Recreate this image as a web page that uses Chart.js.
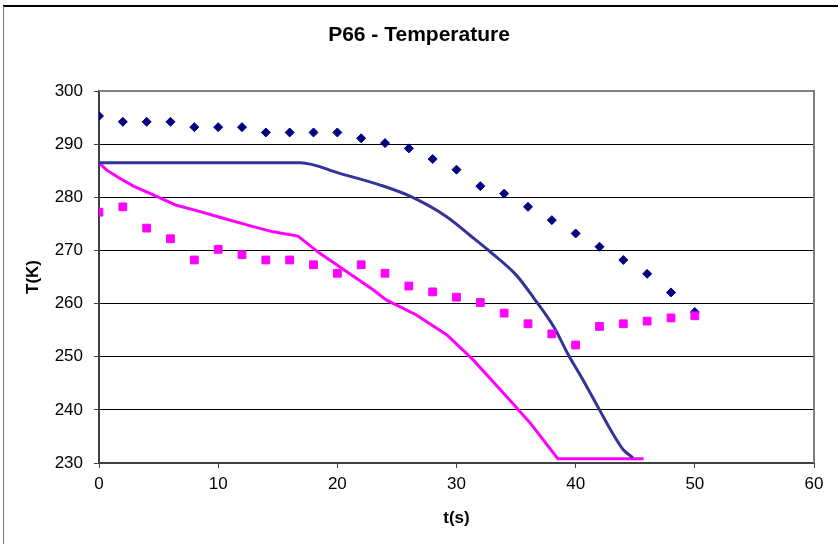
<!DOCTYPE html>
<html>
<head>
<meta charset="utf-8">
<title>P66 - Temperature</title>
<script src="https://cdn.jsdelivr.net/npm/chart.js@4/dist/chart.umd.min.js"></script>
<style>
  html, body { margin: 0; padding: 0; background: #fff; }
  #wrap { position: relative; width: 838px; height: 544px; overflow: hidden; }
</style>
</head>
<body>
<div id="wrap"><canvas id="chart" width="838" height="544"></canvas></div>
<script>
// measured points, every 2 s
const sampleTimes = [0, 2, 4, 6, 8, 10, 12, 14, 16, 18, 20, 22, 24, 26, 28, 30, 32, 34, 36, 38, 40, 42, 44, 46, 48, 50];
const diamondTemps = [295.3, 294.2, 294.2, 294.2, 293.2, 293.2, 293.2, 292.2, 292.2, 292.2, 292.2, 291.1, 290.2,
  289.2, 287.2, 285.2, 282.1, 280.7, 278.2, 275.7, 273.2, 270.7, 268.2, 265.6, 262.1, 258.4];
const squareTemps = [277.2, 278.2, 274.2, 272.2, 268.2, 270.2, 269.2, 268.2, 268.2, 267.3, 265.7, 267.3, 265.7,
  263.3, 262.2, 261.2, 260.2, 258.2, 256.2, 254.3, 252.2, 255.7, 256.2, 256.7, 257.3, 257.7];

// computed curves
const blueTimes = [0, 16.9, 20.2, 23.6, 26.1, 29.2, 31.1, 32.8, 35.0, 36.5, 38.2, 39.3, 40.7, 42.0, 43.1, 44.0, 44.8];
const blueTemps = [286.5, 286.5, 284.5, 282.3, 280.2, 276.3, 272.9, 269.8, 265.4, 261.0, 255.5, 250.7, 245.3, 240.0, 235.6, 232.5, 231.0];
const pinkTimes = [0, 0.65, 1.8, 2.9, 4.6, 6.5, 8.5, 10.2, 12.4, 14.6, 16.7, 18.5, 20.8, 23.0, 24.1, 26.6, 29.2, 31.4, 34.2, 36.2, 38.5, 45.7];
const pinkTemps = [286.5, 285.1, 283.5, 282.1, 280.4, 278.5, 277.3, 276.2, 274.8, 273.5, 272.7, 269.5, 266.0, 262.6,
  260.7, 257.9, 254.1, 249.4, 242.5, 237.5, 230.8, 230.8];

const xTicks = [0, 10, 20, 30, 40, 50, 60];
const yTicks = [230, 240, 250, 260, 270, 280, 290, 300];

const FONT = "'Liberation Sans', Arial, sans-serif";
const pts = (xs, ys) => xs.map((x, i) => ({ x, y: ys[i] }));

// frame lines: outer chart border + gray top/right edge of the plot area
const frames = {
  id: 'frames',
  beforeDraw(chart) {
    const ctx = chart.ctx;
    ctx.save();
    ctx.strokeStyle = '#000';
    ctx.lineWidth = 2;
    ctx.beginPath(); ctx.moveTo(3, 6); ctx.lineTo(838, 6); ctx.stroke();
    ctx.strokeStyle = '#777';
    ctx.lineWidth = 1;
    ctx.beginPath(); ctx.moveTo(3.5, 6); ctx.lineTo(3.5, 544); ctx.stroke();
    ctx.restore();
  },
  beforeDatasetsDraw(chart) {
    const { ctx, chartArea: a } = chart;
    ctx.save();
    ctx.strokeStyle = '#808080';
    ctx.lineWidth = 2;
    ctx.beginPath();
    ctx.moveTo(a.left, a.top);
    ctx.lineTo(a.right, a.top);
    ctx.lineTo(a.right, a.bottom);
    ctx.stroke();
    ctx.restore();
  }
};

new Chart(document.getElementById('chart'), {
  type: 'scatter',
  data: {
    datasets: [
      {
        data: pts(sampleTimes, squareTemps),
        pointStyle: 'rect', pointRadius: 5.5, borderWidth: 1,
        backgroundColor: '#FF00FF', borderColor: '#FF00FF', showLine: false, order: 0
      },
      {
        data: pts(sampleTimes, diamondTemps),
        pointStyle: 'rectRot', pointRadius: 4.5, borderWidth: 1,
        backgroundColor: '#000080', borderColor: '#000080', showLine: false, order: 1
      },
      {
        data: pts(blueTimes, blueTemps),
        showLine: true, pointRadius: 0, borderColor: '#333399', borderWidth: 3,
        cubicInterpolationMode: 'monotone', fill: false, order: 2
      },
      {
        data: pts(pinkTimes, pinkTemps),
        showLine: true, pointRadius: 0, borderColor: '#FF00FF', borderWidth: 3,
        tension: 0, fill: false, order: 3
      }
    ]
  },
  options: {
    responsive: false,
    animation: false,
    events: [],
    layout: { padding: 0 },
    plugins: {
      legend: { display: false },
      tooltip: { enabled: false },
      title: {
        display: true,
        text: 'P66 - Temperature',
        color: '#000',
        font: { family: FONT, size: 21, weight: 'bold', lineHeight: 1.2 },
        padding: { top: 23, bottom: 42.8 }
      }
    },
    scales: {
      x: {
        type: 'linear', min: 0, max: 60,
        afterFit: (s) => { s.height = 81; },
        afterBuildTicks: (s) => { s.ticks = xTicks.map(v => ({ value: v })); },
        grid: { drawOnChartArea: false, drawTicks: true, tickLength: 5, tickColor: '#404040' },
        border: { display: true, color: '#404040', width: 2 },
        ticks: { color: '#000', padding: 6, maxRotation: 0, font: { family: FONT, size: 17 } },
        title: {
          display: true, text: 't(s)', color: '#000',
          font: { family: FONT, size: 17, weight: 'bold', lineHeight: 1.2 },
          padding: { top: 0, bottom: 15 }
        }
      },
      y: {
        type: 'linear', min: 230, max: 300,
        afterFit: (s) => { s.width = 99; },
        afterBuildTicks: (s) => { s.ticks = yTicks.map(v => ({ value: v })); },
        grid: { color: '#000', lineWidth: 1, drawTicks: true, tickLength: 5, tickColor: '#404040' },
        border: { display: true, color: '#404040', width: 2 },
        ticks: { color: '#000', padding: 11, font: { family: FONT, size: 17 } },
        title: {
          display: true, text: 'T(K)', color: '#000',
          font: { family: FONT, size: 17, weight: 'bold', lineHeight: 1.2 },
          padding: { top: 23, bottom: 0 }
        }
      },
      // empty right-hand strip so the title centres on the full width
      yRight: {
        type: 'linear', position: 'right', min: 230, max: 300,
        afterFit: (s) => { s.width = 24; },
        grid: { display: false, drawTicks: false },
        border: { display: false },
        ticks: { display: false }
      }
    }
  },
  plugins: [frames]
});
</script>
</body>
</html>
